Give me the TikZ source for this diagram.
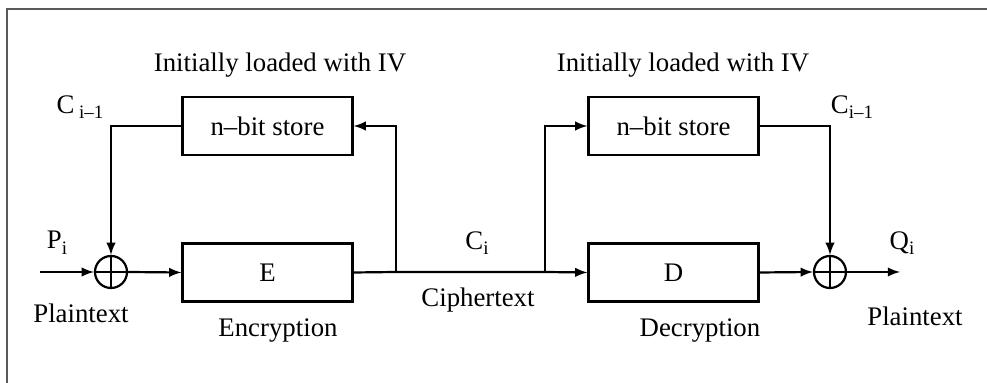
\documentclass[tikz,border=0pt]{standalone}
\usepackage{fontspec}
\setmainfont{Liberation Serif}
\usetikzlibrary{arrows}
\newcommand{\lowidx}[1]{\raisebox{-0.45ex}{\fontsize{9.5}{10}\selectfont #1}}

\begin{document}
\begin{tikzpicture}[x=0.5pt,y=-0.5pt,>=latex,line width=1.1pt,
    font=\fontsize{13.4}{15}\selectfont,
    box/.style={draw,minimum width=85pt,minimum height=29pt,inner sep=0pt},
    xor/.style={draw,circle,minimum size=16pt,inner sep=0pt}]
  \useasboundingbox (0,0) rectangle (987,383);
  % frame
  \draw[line width=0.7pt,gray!70!black] (987,9) -- (7,9) -- (7,383);

  % encryption side
  \node[box]  (st1) at (267.5,126)   {n--bit store};
  \node[box]  (enc) at (267.5,272.5) {E};
  \node[xor]  (x1)  at (111,272)     {};
  \draw (x1.north) -- (x1.south) (x1.west) -- (x1.east);

  % decryption side
  \node[box]  (st2) at (673.5,126)   {n--bit store};
  \node[box]  (dec) at (673.5,272.5) {D};
  \node[xor]  (x2)  at (830,272)     {};
  \draw (x2.north) -- (x2.south) (x2.west) -- (x2.east);

  \coordinate (in)  at (40,272);
  \coordinate (b1)  at (396,272);
  \coordinate (b2)  at (545,272);
  \coordinate (out) at (900,272);

  % connectors
  \draw[->] (in) -- (x1.west);
  \draw[->] (x1.east) -- (enc.west);
  \draw (enc.east) -- (b1) -- (b2);
  \draw[->] (b1) |- (st1.east);
  \draw[->] (st1.west) -| (x1.north);
  \draw[->] (b2) -- (dec.west);
  \draw[->] (b2) |- (st2.west);
  \draw[->] (st2.east) -| (x2.north);
  \draw[->] (dec.east) -- (x2.west);
  \draw[->] (x2.east) -- (out);

  % labels
  \node (iv1) at (280,65)  {Initially loaded with IV};
  \node (iv2) at (683,65)  {Initially loaded with IV};
  \node (cm1) at (80,107)  {C\,\lowidx{i--1}};
  \node (cm2) at (852,107) {C\lowidx{i--1}};
  \node (pi)  at (57,243)  {P\lowidx{i}};
  \node (ci)  at (477,243) {C\lowidx{i}};
  \node (qi)  at (902,243) {Q\lowidx{i}};
  \node (pt1) at (81,313)  {Plaintext};
  \node (ct)  at (478,300) {Ciphertext};
  \node (pt2) at (915,316) {Plaintext};
  \node (el)  at (278,331) {Encryption};
  \node (dl)  at (700,331) {Decryption};
\end{tikzpicture}
\end{document}
